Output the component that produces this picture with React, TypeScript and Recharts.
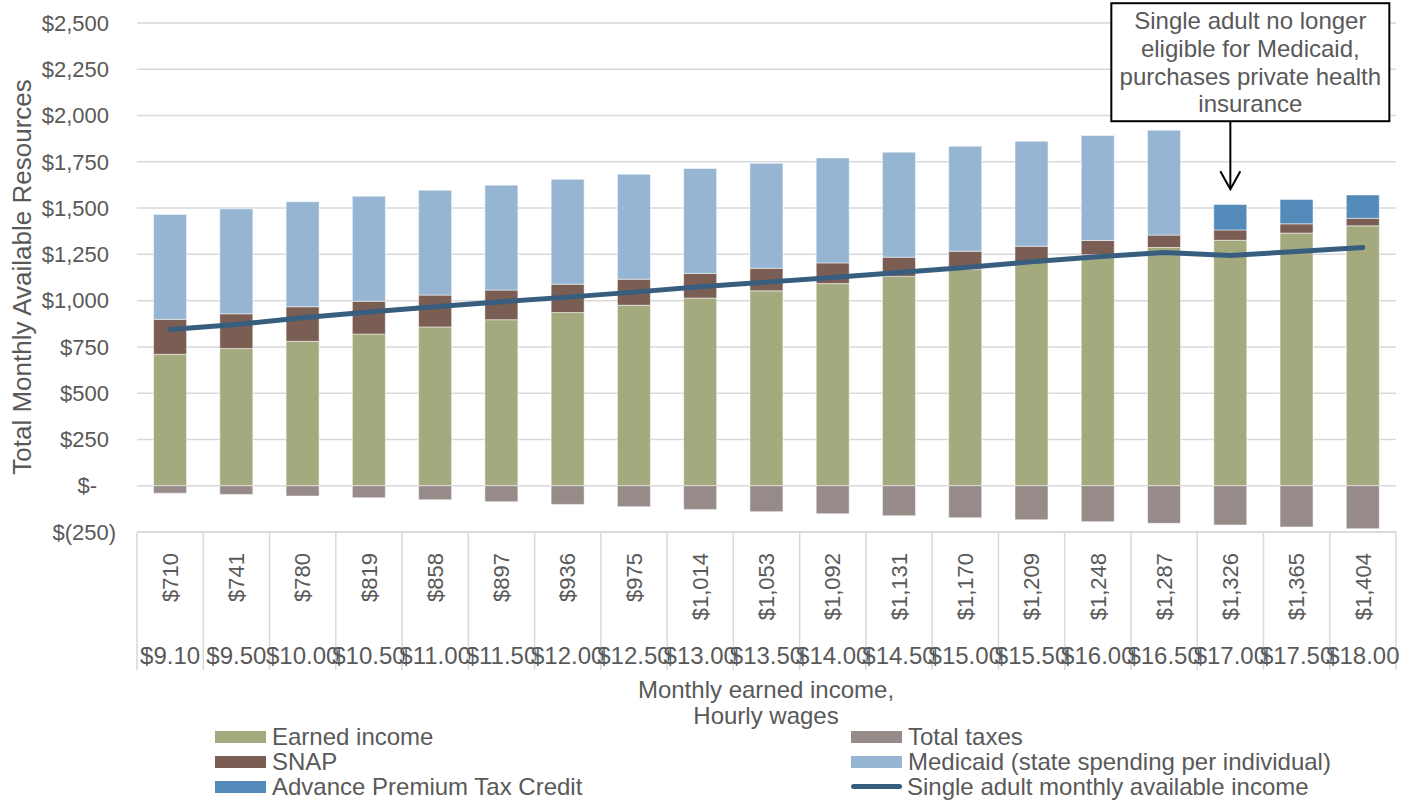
import React from "react";
import {
  ComposedChart,
  Bar,
  Line,
  XAxis,
  YAxis,
  CartesianGrid,
  ReferenceDot,
} from "recharts";

if (typeof document !== "undefined") document.body.style.margin = "0";

const monthlyEarned = [710, 741, 780, 819, 858, 897, 936, 975, 1014, 1053, 1092, 1131, 1170, 1209, 1248, 1287, 1326, 1365, 1404];
const hourlyWages = ["$9.10", "$9.50", "$10.00", "$10.50", "$11.00", "$11.50", "$12.00", "$12.50", "$13.00", "$13.50", "$14.00", "$14.50", "$15.00", "$15.50", "$16.00", "$16.50", "$17.00", "$17.50", "$18.00"];
const snap = [189, 188, 187, 178, 172, 160, 153, 141, 133, 122, 112, 104, 97, 85, 77, 67, 56, 50, 41];
const medicaid = [567, 567, 567, 567, 567, 567, 567, 567, 567, 567, 567, 567, 567, 567, 567, 567, 0, 0, 0];
const aptc = [0, 0, 0, 0, 0, 0, 0, 0, 0, 0, 0, 0, 0, 0, 0, 0, 137, 131, 126];
const totalTaxes = [-40, -47, -56, -65, -76, -86, -101, -113, -128, -140, -151, -162, -173, -184, -194, -203, -212, -223, -232];
const availableIncome = [844, 871, 907, 938, 967, 994, 1019, 1046, 1075, 1100, 1125, 1152, 1179, 1210, 1237, 1260, 1244, 1266, 1287];
const yTicks = [-250, 0, 250, 500, 750, 1000, 1250, 1500, 1750, 2000, 2250, 2500];

const annotationLines = ["Single adult no longer", "eligible for Medicaid,", "purchases private health", "insurance"];
const annotationIndex = 16;

const COLORS = {
  earned: "#A4AA7E",
  snap: "#7A5E53",
  medicaid: "#95B5D2",
  aptc: "#548ABA",
  taxes: "#978B8A",
  line: "#375E7F",
};

const FONT = "'Liberation Sans', Arial, sans-serif";
const TEXT = "#595959";

const money = (v: number) => "$" + v.toLocaleString("en-US");

const data = monthlyEarned.map((v, i) => ({
  label: money(v),
  earned: v,
  snap: snap[i],
  medicaid: medicaid[i],
  aptc: aptc[i],
  taxes: totalTaxes[i],
  available: availableIncome[i],
}));

const legendItems = [
  { name: "Earned income", color: COLORS.earned, kind: "box" },
  { name: "Total taxes", color: COLORS.taxes, kind: "box" },
  { name: "SNAP", color: COLORS.snap, kind: "box" },
  { name: "Medicaid (state spending per individual)", color: COLORS.medicaid, kind: "box" },
  { name: "Advance Premium Tax Credit", color: COLORS.aptc, kind: "box" },
  { name: "Single adult monthly available income", color: COLORS.line, kind: "line" },
];

function YTick(props: any) {
  const { x, y, payload } = props;
  const v = payload.value;
  let label = money(v);
  let pad = 7;
  if (v === 0) {
    label = "$-";
    pad = 19;
  } else if (v < 0) {
    label = "$(" + Math.abs(v) + ")";
    pad = 0;
  }
  return (
    <text x={x - pad} y={y} dy="0.35em" textAnchor="end" fill={TEXT} fontSize={22} fontFamily={FONT}>
      {label}
    </text>
  );
}

function XTick(props: any) {
  const { x, y, payload } = props;
  const half = payload.offset || 33.1;
  const last = payload.index === monthlyEarned.length - 1;
  return (
    <g>
      <line x1={x - half} x2={x - half} y1={y} y2={y + 138} stroke="#D9D9D9" strokeWidth={1.5} />
      {last && <line x1={x + half} x2={x + half} y1={y} y2={y + 138} stroke="#D9D9D9" strokeWidth={1.5} />}
      <text
        x={x}
        y={y + 21}
        dy="0.35em"
        transform={`rotate(-90 ${x} ${y + 21})`}
        textAnchor="end"
        fill={TEXT}
        fontSize={22}
        fontFamily={FONT}
      >
        {payload.value}
      </text>
      <text x={x} y={y + 124} dy="0.35em" textAnchor="middle" fill={TEXT} fontSize={24} fontFamily={FONT}>
        {hourlyWages[payload.index]}
      </text>
    </g>
  );
}

function YTitle() {
  return (
    <text
      x={22}
      y={277}
      dy="0.35em"
      transform="rotate(-90 22 277)"
      textAnchor="middle"
      fill={TEXT}
      fontSize={26}
      fontFamily={FONT}
    >
      Total Monthly Available Resources
    </text>
  );
}

function Callout(props: any) {
  const { cx, cy } = props;
  const tx = cx + 20;
  return (
    <g>
      <rect x={cx - 119} y={cy - 186} width={278} height={118} fill="#fff" stroke="#000" strokeWidth={2} />
      {annotationLines.map((t, i) => (
        <text key={t} x={tx} y={cy - 160 + i * 27.7} textAnchor="middle" fill={TEXT} fontSize={24} fontFamily={FONT}>
          {t}
        </text>
      ))}
      <line x1={cx} x2={cx} y1={cy - 68} y2={cy - 1} stroke="#000" strokeWidth={2} />
      <polyline points={`${cx - 10},${cy - 18} ${cx},${cy} ${cx + 10},${cy - 18}`} fill="none" stroke="#000" strokeWidth={2} />
    </g>
  );
}

export default function App() {
  const a = annotationIndex;
  const calloutY = monthlyEarned[a] + snap[a] + medicaid[a] + aptc[a] + 83;
  return (
    <div style={{ position: "relative", width: 1411, height: 804, background: "#fff", fontFamily: FONT }}>
      <ComposedChart
        width={1411}
        height={804}
        data={data}
        stackOffset="sign"
        barCategoryGap="25%"
        margin={{ top: 23, right: 15, bottom: 132, left: 0 }}
      >
        <CartesianGrid vertical={false} stroke="#D9D9D9" strokeWidth={1.5} />
        <XAxis
          dataKey="label"
          interval={0}
          height={140}
          tickSize={0}
          tickMargin={0}
          axisLine={{ stroke: "#D9D9D9", strokeWidth: 1.5 }}
          tickLine={false}
          tick={<XTick />}
        />
        <YAxis
          width={137}
          domain={[-250, 2500]}
          ticks={yTicks}
          interval={0}
          tickSize={0}
          tickMargin={21}
          axisLine={false}
          tickLine={false}
          tick={<YTick />}
          label={{ content: <YTitle /> }}
        />
        <Bar dataKey="earned" stackId="a" fill={COLORS.earned} stroke="#fff" strokeOpacity={0.5} isAnimationActive={false} />
        <Bar dataKey="snap" stackId="a" fill={COLORS.snap} stroke="#fff" strokeOpacity={0.5} isAnimationActive={false} />
        <Bar dataKey="medicaid" stackId="a" fill={COLORS.medicaid} stroke="#fff" strokeOpacity={0.5} isAnimationActive={false} />
        <Bar dataKey="aptc" stackId="a" fill={COLORS.aptc} stroke="#fff" strokeOpacity={0.5} isAnimationActive={false} />
        <Bar dataKey="taxes" stackId="a" fill={COLORS.taxes} stroke="#fff" strokeOpacity={0.5} isAnimationActive={false} />
        <Line
          type="linear"
          dataKey="available"
          stroke={COLORS.line}
          strokeWidth={5}
          strokeLinecap="round"
          dot={false}
          activeDot={false}
          isAnimationActive={false}
        />
        <ReferenceDot x={data[a].label} y={calloutY} r={0} shape={<Callout />} />
      </ComposedChart>

      <div
        style={{
          position: "absolute",
          left: 566,
          top: 677,
          width: 400,
          textAlign: "center",
          fontSize: 24,
          lineHeight: "26px",
          color: TEXT,
        }}
      >
        <div>Monthly earned income,</div>
        <div>Hourly wages</div>
      </div>

      <div style={{ position: "absolute", left: 0, top: 724, width: 1411 }}>
        {legendItems.map((it, i) => {
          const col = i % 2;
          const row = Math.floor(i / 2);
          return (
            <div
              key={it.name}
              style={{
                position: "absolute",
                left: col === 0 ? 215 : 851,
                top: row * 25,
                height: 25,
                display: "flex",
                alignItems: "center",
                fontSize: 24,
                color: TEXT,
                whiteSpace: "nowrap",
              }}
            >
              {it.kind === "box" ? (
                <span style={{ width: 51, height: 12, background: it.color, display: "inline-block", marginRight: 6 }} />
              ) : (
                <span
                  style={{ width: 51, height: 5, borderRadius: 3, background: it.color, display: "inline-block", marginRight: 5 }}
                />
              )}
              {it.name}
            </div>
          );
        })}
      </div>
    </div>
  );
}
